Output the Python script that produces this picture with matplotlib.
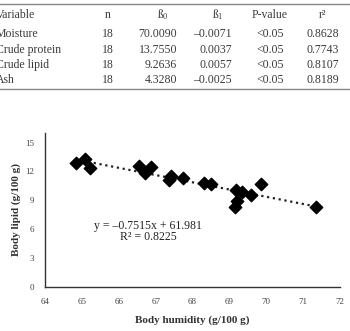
import matplotlib
matplotlib.use('Agg')
import matplotlib.pyplot as plt
import numpy as np

plt.rcParams['font.family'] = ['Liberation Serif', 'DejaVu Serif']
plt.rcParams['mathtext.fontset'] = 'custom'
plt.rcParams['mathtext.rm'] = 'Liberation Serif'
plt.rcParams['mathtext.it'] = 'Liberation Serif'

# table data
variables = ['Variable', 'Moisture', 'Crude protein', 'Crude lipid', 'Ash']
n_vals = ['n', '18', '18', '18', '18']
b0_vals = ['ß$_\\mathrm{0}$', '70.0090', '13.7550', '9.2636', '4.3280']
b1_vals = ['ß$_\\mathrm{1}$', '\u20130.0071', '0.0037', '0.0057', '\u20130.0025']
p_vals = ['P-value', '<0.05', '<0.05', '<0.05', '<0.05']
r2_vals = ['r\u00b2', '0.8628', '0.7743', '0.8107', '0.8189']

# scatter data
humidity = [64.85, 65.08, 65.23, 66.55, 66.71, 66.87, 67.36, 67.42,
            67.73, 68.31, 68.49, 69.19, 69.34, 69.21, 69.15, 69.58, 69.85, 71.35]
lipid = [12.85, 13.26, 12.33, 12.6, 11.8, 12.43, 11.12, 11.55,
         11.28, 10.76, 10.69, 10.07, 9.83, 8.92, 8.26, 9.55, 10.66, 8.33]
slope = -0.7515
intercept = 61.981

fig = plt.figure(figsize=(3.5, 3.31), dpi=100)

# table drawn in figure pixel coords
W, H = 350, 331
def fx(x):
    return x / W
def fy(y):
    return 1 - y / H

tc = '#3a3a3a'
fs = 8.5
row_y = [15, 34, 50, 65, 80]
for i, y in enumerate(row_y):
    fig.text(fx(-4), fy(y), variables[i], fontsize=fs, ha='left', va='center', color=tc)
    fig.text(fx(108), fy(y), n_vals[i], fontsize=fs, ha='center', va='center', color=tc)
    if i == 0:
        fig.text(fx(163), fy(y), b0_vals[i], fontsize=fs, ha='center', va='center', color=tc)
        fig.text(fx(218), fy(y), b1_vals[i], fontsize=fs, ha='center', va='center', color=tc)
    else:
        fig.text(fx(177), fy(y), b0_vals[i], fontsize=fs, ha='right', va='center', color=tc)
        fig.text(fx(232), fy(y), b1_vals[i], fontsize=fs, ha='right', va='center', color=tc)
    fig.text(fx(270), fy(y), p_vals[i], fontsize=fs, ha='center', va='center', color=tc)
    fig.text(fx(323), fy(y), r2_vals[i], fontsize=fs, ha='center', va='center', color=tc)

for y in [4, 89]:
    fig.add_artist(plt.Line2D([0, 1], [fy(y), fy(y)], color='#888888', lw=1))

# chart
ax = fig.add_axes([45 / W, 1 - 287 / H, 295 / W, 154 / H])
ax.scatter(humidity, lipid, marker='D', s=40, color='black', zorder=3)
xs = np.array([min(humidity), max(humidity)])
ax.plot(xs, slope * xs + intercept, color='#222222', linestyle=':', lw=1.6)

ax.set_xlim(64, 72)
ax.set_ylim(0, 16)
ax.set_xticks(range(64, 73))
ax.set_yticks([0, 3, 6, 9, 12, 15])
ax.tick_params(length=0, labelsize=6.5, colors='#444444', pad=8)
for s in ['top', 'right']:
    ax.spines[s].set_visible(False)
for s in ['left', 'bottom']:
    ax.spines[s].set_color('#333333')
    ax.spines[s].set_linewidth(1)

ax.set_xlabel('Body humidity (g/100 g)', fontsize=8, fontweight='bold', color='#333333', labelpad=7)
ax.set_ylabel('Body lipid (g/100 g)', fontsize=8, fontweight='bold', color='#333333', labelpad=3)

ax.text(66.79, 6.35, 'y = \u20130.7515x + 61.981', fontsize=8.5,
        color='#222222', ha='center', va='center')
ax.text(66.79, 5.2, 'R\u00b2 = 0.8225', fontsize=8.5,
        color='#222222', ha='center', va='center')

fig.savefig('out.png', dpi=100)
